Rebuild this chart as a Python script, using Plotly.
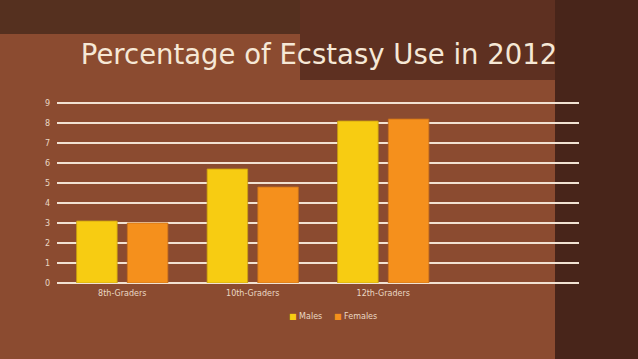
import plotly.graph_objects as go

categories = ["8th-Graders", "10th-Graders", "12th-Graders"]
males = [3.1, 5.7, 8.1]
females = [3.0, 4.8, 8.2]
y_ticks = [0, 1, 2, 3, 4, 5, 6, 7, 8, 9]
series_names = ["Males", "Females"]

W, H = 638, 359
YMAX = 9.3
L, R, B = 57, 59, 76
T = 103 - round((YMAX - 9) * 20)
xpos = list(range(len(categories)))
male_color, female_color = "#f7cc12", "#f5901c"

fig = go.Figure()
fig.add_trace(go.Bar(name=series_names[0], x=xpos, y=males, showlegend=False,
                     marker=dict(color=male_color, line=dict(color="#c9a010", width=0.8))))
fig.add_trace(go.Bar(name=series_names[1], x=xpos, y=females, showlegend=False,
                     marker=dict(color=female_color, line=dict(color="#c8701a", width=0.8))))

shapes = [
    dict(type="rect", xref="paper", yref="paper", x0=-1, x1=2, y0=(H - 34 - B) / (H - T - B), y1=3,
         fillcolor="#55301f", line=dict(width=0), layer="below"),
    dict(type="rect", xref="paper", yref="paper", x0=(300 - L) / (W - L - R), x1=2,
         y0=(H - 80 - B) / (H - T - B), y1=3,
         fillcolor="#5e3021", line=dict(width=0), layer="below"),
    dict(type="rect", xref="paper", yref="paper", x0=(555 - L) / (W - L - R), x1=3, y0=-1, y1=3,
         fillcolor="#48251a", line=dict(width=0), layer="below"),
]

legend_y = -(316 - (H - B)) / (H - T - B)
annotations = [
    dict(xref="paper", yref="paper", x=(287 - L) / (W - L - R), y=legend_y, xanchor="left", yanchor="middle",
         showarrow=False, text=f"<span style='color:{male_color}'>■</span> {series_names[0]}",
         font=dict(family="DejaVu Sans", size=8, color="#ead8c4")),
    dict(xref="paper", yref="paper", x=(332 - L) / (W - L - R), y=legend_y, xanchor="left", yanchor="middle",
         showarrow=False, text=f"<span style='color:{female_color}'>■</span> {series_names[1]}",
         font=dict(family="DejaVu Sans", size=8, color="#ead8c4")),
]

fig.update_layout(
    width=W, height=H,
    margin=dict(l=L, r=R, t=T, b=B),
    paper_bgcolor="#8b4b30",
    plot_bgcolor="rgba(0,0,0,0)",
    barmode="group", bargap=0.223, bargroupgap=0.2,
    shapes=shapes, annotations=annotations, showlegend=False,
    title=dict(text="Percentage of Ecstasy Use in 2012", x=0.5, xanchor="center",
               y=1 - 54 / H, yanchor="middle",
               font=dict(family="DejaVu Sans", size=27.5, color="#f6e8d6")),
    xaxis=dict(range=[-0.5, 3.5], tickvals=xpos, ticktext=categories,
               showgrid=False, zeroline=False, showline=False, ticks="",
               tickfont=dict(family="DejaVu Sans", size=8, color="#ead8c4"), ticklabelstandoff=4),
    yaxis=dict(range=[0, YMAX], tickvals=y_ticks, showgrid=True, gridcolor="#f2e2d2", gridwidth=1.5,
               zeroline=True, zerolinecolor="#f2e2d2", zerolinewidth=1.5, showline=False,
               ticks="", tickfont=dict(family="DejaVu Sans", size=8, color="#ead8c4"), ticklabelstandoff=6),
)

fig.write_html("out.html", config={"displayModeBar": False},
               post_script="document.body.style.margin='0';")
